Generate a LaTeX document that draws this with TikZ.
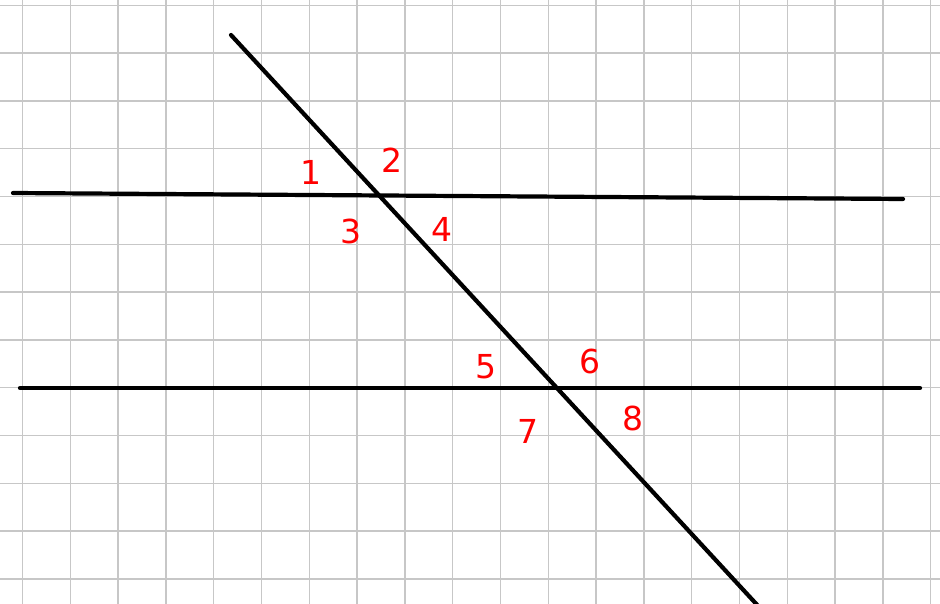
\documentclass[tikz,border=0pt]{standalone}
\usepackage{fontspec}
\setmainfont{DejaVu Sans}
\begin{document}
\begin{tikzpicture}[x=1pt,y=-1pt,
  gridline/.style={draw=black!22,line width=1.4pt},
  mainline/.style={draw=black,line width=4.2pt,line cap=round},
  lbl/.style={text=red,font=\fontsize{33}{33}\selectfont,inner sep=0pt}]
\useasboundingbox (0,0) rectangle (940,604);
\fill[white] (0,0) rectangle (940,604);
\foreach \k in {0,...,19} {
  \draw[gridline] ({22.5+47.8*\k},0) -- ({22.5+47.8*\k},604);
}
\foreach \k in {0,...,12} {
  \draw[gridline] (0,{5.3+47.8*\k}) -- (940,{5.3+47.8*\k});
}
\coordinate (A1) at (13,193);
\coordinate (A2) at (903,199);
\coordinate (B1) at (20,388);
\coordinate (B2) at (920,388);
\coordinate (T1) at (231,35);
\coordinate (T2) at (760,608);
\draw[mainline] (A1) -- (A2);
\draw[mainline] (B1) -- (B2);
\draw[mainline] (T1) -- (T2);
\node[lbl] (n1) at (311,172) {1};
\node[lbl] (n2) at (392,160) {2};
\node[lbl] (n3) at (351,231) {3};
\node[lbl] (n4) at (442,229) {4};
\node[lbl] (n5) at (486,367) {5};
\node[lbl] (n6) at (590,361) {6};
\node[lbl] (n7) at (528,431) {7};
\node[lbl] (n8) at (633,418) {8};
\end{tikzpicture}
\end{document}
